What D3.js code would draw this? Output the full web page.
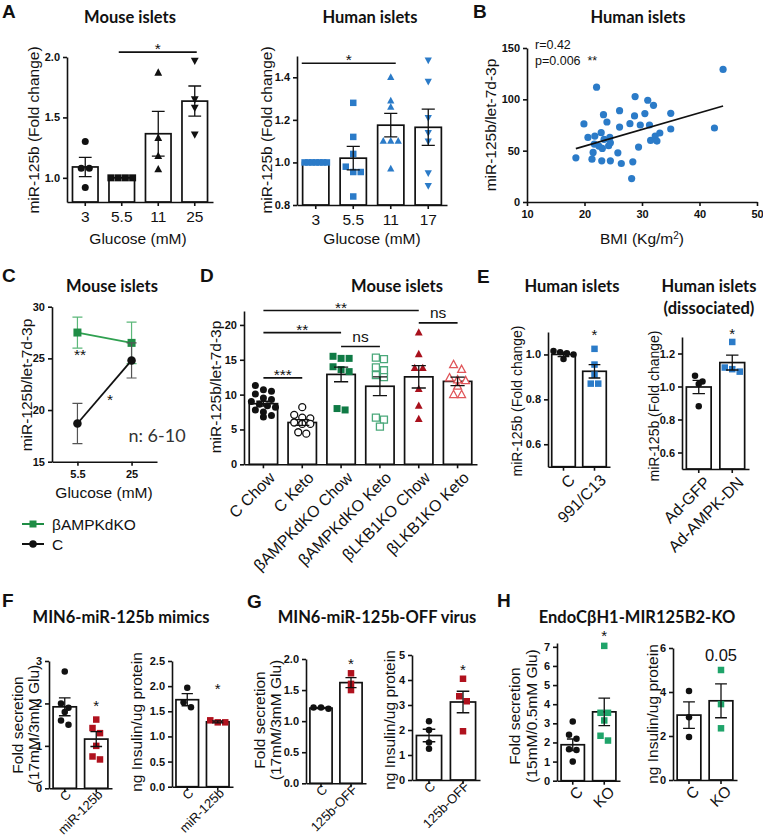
<!DOCTYPE html>
<html><head><meta charset="utf-8">
<script src="https://cdn.jsdelivr.net/npm/d3@7"></script>
<style>body{margin:0;background:#fff}svg{display:block}</style>
</head><body><svg id="c" width="763" height="840"></svg>
<script>
// ---------------- DATA ----------------
const aMouseGlucose = ["3","5.5","11","25"];
const aMouseMean = [1.09,1.0,1.365,1.635];
const aMouseSem = [0.08,0,0.185,0.125];
const aMousePts = [[1.30,1.08,1.08,0.92],[1,1,1,1],[1.87,1.33,1.18,1.07],[1.97,1.65,1.58,1.36]];

const aHumanGlucose = ["3","5.5","11","17"];
const aHumanMean = [1.0,1.02,1.175,1.165];
const aHumanSem = [0,0.055,0.055,0.085];
const aHumanPts = [[1,1,1,1,1,1,1],[1.28,1.12,1.04,0.98,0.955,0.955,0.84],[1.40,1.29,1.26,1.10,1.10,1.10,0.97],[1.48,1.38,1.21,1.14,1.10,0.95,0.89]];

const bBMI = [18.5,19.9,20.6,21.3,21.5,21.7,21.8,22.1,22.5,22.9,23.0,23.1,23.3,23.4,23.9,24.2,24.4,24.5,24.5,25.8,26.1,26.1,26.4,27.9,28.4,28.2,28.7,28.8,29.4,29.7,30.5,31.0,31.3,31.5,32.0,32.3,32.6,33.1,35.0,35.0,42.6,44.1];
const bRatio = [43.0,76.0,62.9,41.7,48.3,56.4,64.2,111.8,54.5,67.5,40.1,52.2,85.1,61.0,77.9,54.8,62.9,40.1,57.7,47.9,89.0,73.0,37.5,76.3,39.1,22.8,83.8,102.7,53.5,75.0,86.1,99.1,75.0,60.0,94.2,64.2,59.3,67.2,86.4,71.1,72.1,129.1];
const bFitBMI = [18.5,44.1];
const bFitRatio = [52,93.5];
const bStats = ["r=0.42","p=0.006\u00a0\u00a0**"];

const cGlucose = ["5.5","25"];
const cSeries = ["βAMPKdKO","C"];
const cKOMean = [27.5,26.5], cKOSem = [1.5,2.0];
const cCMean = [18.7,24.8], cCSem = [1.95,1.7];

const dGroups = ["C Chow","C Keto","βAMPKdKO Chow","βAMPKdKO Keto","βLKB1KO Chow","βLKB1KO Keto"];
const dMean = [8.7,6.0,12.9,11.2,12.55,11.9];
const dSem = [0.35,0.4,1.05,1.35,1.6,0.6];
const dPts = [[11.3,10.7,10.5,10.1,9.5,9.3,9.0,8.6,8.4,8.2,7.8,7.5,7.0,6.8],
  [8.2,7.1,6.7,6.6,6.0,5.8,5.8,4.6,4.4],
  [15.5,15.2,15.2,14.0,13.6,13.3,8.0,7.8],
  [15.3,15.1,13.9,13.5,12.8,12.5,6.7,6.4,5.4],
  [18.9,15.8,13.8,13.8,10.8,8.4,6.5],
  [14.3,13.6,12.4,12.1,12.0,11.2,10.0,10.0]];

const eDrugGroups = ["C","991/C13"];
const eDrugMean = [1.0,0.925], eDrugSem = [0.01,0.03];
const eDrugPts = [[1.015,1.01,1.005,1.0,0.98],[1.025,0.955,0.91,0.87,0.87]];
const eVirusGroups = ["Ad-GFP","Ad-AMPK-DN"];
const eVirusMean = [0.997,1.145], eVirusSem = [0.04,0.045];
const eVirusPts = [[1.065,1.03,1.015,0.88],[1.27,1.115,1.105,1.09]];

const fGroups = ["C","miR-125b"];
const fSecMean = [1.92,1.16], fSecSem = [0.21,0.175];
const fSecPts = [[2.75,2.0,1.9,1.8,1.6,1.5],[1.62,1.42,1.30,1.0,0.75,0.68]];
const fInsMean = [1.73,1.29], fInsSem = [0.12,0.02];
const fInsPts = [[1.97,1.68,1.58],[1.32,1.28,1.28]];

const gGroups = ["C","125b-OFF"];
const gSecMean = [1.21,1.62], gSecSem = [0.01,0.08];
const gSecPts = [[1.20,1.22,1.22],[1.77,1.60,1.50]];
const gInsMean = [1.78,3.12], gInsSem = [0.25,0.43];
const gInsPts = [[2.35,2.0,1.5,1.25],[4.05,3.35,3.15,1.95]];

const hGroups = ["C","KO"];
const hSecMean = [1.88,3.6], hSecSem = [0.3,0.72];
const hSecPts = [[3.1,2.4,2.2,1.65,1.6,1.0],[7.05,3.55,3.55,3.15,2.35,2.1]];
const hInsMean = [2.95,3.6], hInsSem = [0.6,0.77];
const hInsPts = [[4.05,2.85,1.95],[5.0,3.45,2.35]];

// ---------------- DRAWING ----------------
const FONT = "'Liberation Sans', Arial, sans-serif";
const TFONT = "Lato, 'Open Sans', sans-serif";
const INK = "#111";
const BLUE = "#2b7bc8";
const svg = d3.select("#c");

function marker(shape, s){
  const h = s/2;
  if(shape==="circle") return d3.symbol(d3.symbolCircle, Math.PI*h*h)();
  if(shape==="square") return `M${-h},${-h}H${h}V${h}H${-h}Z`;
  if(shape==="tri") return `M0,${-s*0.62}L${s*0.56},${s*0.42}L${-s*0.56},${s*0.42}Z`;
  return `M0,${s*0.62}L${s*0.56},${-s*0.42}L${-s*0.56},${-s*0.42}Z`;
}
function swarm(vals,y,cx,s,maxW){
  const it = vals.map(v=>({v,py:y(v)})).sort((a,b)=>a.py-b.py);
  const rows=[]; let cur=null;
  it.forEach(p=>{ if(cur && p.py-cur[0].py < s*0.9) cur.push(p); else {cur=[p]; rows.push(cur);} });
  rows.forEach(r=>{const k=r.length; const sp=k>1?Math.min(s*1.15,maxW/(k-1)):0; r.forEach((p,j)=>p.px=cx+(j-(k-1)/2)*sp);});
  return it;
}
function styleAxis(sel,bold,size){
  sel.attr("font-family",FONT).attr("font-size",size).attr("font-weight",bold?"bold":"normal");
  sel.selectAll("path,line").attr("stroke",INK).attr("stroke-width",1.6);
  sel.selectAll("text").attr("fill",INK);
}
function text(x,y,str,o={}){
  return svg.append("text").attr("x",x).attr("y",y).attr("text-anchor",o.anchor||"middle")
    .attr("font-family",o.font||FONT).attr("font-size",o.size||15).attr("font-weight",o.weight||"normal")
    .attr("fill",o.fill||INK).text(str);
}
function vtext(x,y,str,size=15){
  svg.append("text").attr("transform",`translate(${x},${y}) rotate(-90)`).attr("text-anchor","middle")
    .attr("font-family",FONT).attr("font-size",size).attr("fill",INK).text(str);
}
function title(x,y,str){ text(x,y,str,{font:TFONT,weight:"bold",size:16.5}); }
function letter(x,y,str){ text(x,y,str,{anchor:"start",weight:"bold",size:19}); }

function barPanel(o){
  const g = svg.append("g");
  const pad = o.pad ?? 0.3;
  const x = d3.scaleBand().domain(o.cats).range([o.x0,o.x1]).paddingInner(pad).paddingOuter(pad/2);
  const y = d3.scaleLinear().domain(o.dom).range([o.yb,o.yt]);
  const bw = x.bandwidth(), cx = i=>x(o.cats[i])+bw/2;
  g.selectAll("rect").data(o.mean).join("rect")
    .attr("x",(d,i)=>x(o.cats[i])).attr("y",d=>y(d)).attr("width",bw).attr("height",d=>o.yb-y(d))
    .attr("fill","#fff").attr("stroke",INK).attr("stroke-width",1.7);
  o.pts.forEach((vals,i)=>{
    const st = o.styles[i];
    g.append("g").selectAll("path").data(swarm(vals,y,cx(i),o.ms,bw*0.85)).join("path")
      .attr("d",marker(st.shape,o.ms)).attr("transform",d=>`translate(${d.px},${d.py})`)
      .attr("fill",st.open?"#fff":st.color).attr("stroke",st.open?st.color:"none").attr("stroke-width",1.3);
  });
  const cap = bw*0.25;
  o.mean.forEach((m,i)=>{ const s=o.sem[i]; if(!s) return; const X=cx(i), a=y(m-s), b=y(m+s);
    g.append("path").attr("d",`M${X},${a}V${b}M${X-cap},${a}H${X+cap}M${X-cap},${b}H${X+cap}`)
      .attr("stroke",INK).attr("stroke-width",1.3).attr("fill","none"); });
  const ya = g.append("g").attr("transform",`translate(${o.x0},0)`)
    .call(d3.axisLeft(y).tickValues(o.ticks).tickFormat(d3.format(o.fmt)).tickSize(4).tickSizeOuter(0).tickPadding(3));
  styleAxis(ya,true,11);
  const xa = g.append("g").attr("transform",`translate(0,${o.yb})`)
    .call(d3.axisBottom(x).tickSize(4).tickSizeOuter(0).tickPadding(5));
  styleAxis(xa,false,o.xfs||15.5);
  if(o.rot){
    xa.selectAll(".tick text").attr("text-anchor","end").attr("x",0).attr("y",0).attr("dy",o.rdy||"0.75em")
      .attr("transform",o.rot);
  }
  (o.sig||[]).forEach(s=>{
    const yy=y(s.v), x1=cx(s.a)+(s.d1||0), x2=cx(s.b)+(s.d2||0);
    g.append("line").attr("x1",x1).attr("x2",x2).attr("y1",yy).attr("y2",yy).attr("stroke",INK).attr("stroke-width",1.6);
    const isStar = s.t.includes("*");
    text((x1+x2)/2, isStar? yy+2 : yy-5, s.t, {size:15.5});
  });
  (o.stars||[]).forEach(s=>{ text(cx(s.i), y(s.v)+ (s.t==="*"?8:6), s.t, {size:s.size||15}); });
  return {x,y,cx};
}
const ROT1 = "translate(4,6) rotate(-45)";
const ROT2 = "translate(3,4) rotate(-45)";
const ROT3 = "translate(2,2) rotate(-45)";

// ---- Panel A ----
letter(2,18,"A");
title(130,23,"Mouse islets");
barPanel({x0:67,x1:213,yt:57,yb:202,dom:[0.8,2.0],cats:aMouseGlucose,mean:aMouseMean,sem:aMouseSem,pts:aMousePts,
  styles:[{shape:"circle",color:INK},{shape:"square",color:INK},{shape:"tri",color:INK},{shape:"trid",color:INK}],
  ms:7,ticks:[1.0,1.5,2.0],fmt:".1f",sig:[{a:1,b:3,v:2.04,t:"*",d1:-3,d2:2}]});
vtext(39,130,"miR-125b (Fold change)",15.5);
text(138,244,"Glucose (mM)",{size:15.5});

title(370,23,"Human islets");
barPanel({x0:297,x1:447,yt:56,yb:205,dom:[0.8,1.5],cats:aHumanGlucose,mean:aHumanMean,sem:aHumanSem,pts:aHumanPts,
  styles:[0,1,2,3].map(i=>({shape:["square","square","tri","trid"][i],color:BLUE})),
  ms:6.5,ticks:[0.8,1.0,1.2,1.4],fmt:".1f",sig:[{a:0,b:2,v:1.466,t:"*",d1:-14,d2:5}]});
vtext(272,130,"miR-125b (Fold change)",15.5);
text(372,244,"Glucose (mM)",{size:15.5});

// ---- Panel B ----
letter(473,18,"B");
title(638,23,"Human islets");
(function(){
  const x = d3.scaleLinear().domain([10,50]).range([527,757]);
  const y = d3.scaleLinear().domain([0,150]).range([202,48]);
  const g = svg.append("g");
  g.selectAll("circle").data(bBMI).join("circle").attr("cx",d=>x(d)).attr("cy",(d,i)=>y(bRatio[i])).attr("r",3.6).attr("fill",BLUE);
  g.append("line").attr("x1",x(bFitBMI[0])).attr("x2",x(bFitBMI[1])).attr("y1",y(bFitRatio[0])).attr("y2",y(bFitRatio[1]))
    .attr("stroke",INK).attr("stroke-width",1.6);
  const ya = g.append("g").attr("transform","translate(527,0)").call(d3.axisLeft(y).tickValues([0,50,100,150]).tickSize(4).tickSizeOuter(0).tickPadding(3));
  styleAxis(ya,true,11);
  const xa = g.append("g").attr("transform","translate(0,202)").call(d3.axisBottom(x).tickValues([10,20,30,40,50]).tickSize(4).tickSizeOuter(0).tickPadding(4));
  styleAxis(xa,true,11);
  text(535,49,bStats[0],{anchor:"start",size:12.5});
  text(535,65,bStats[1],{anchor:"start",size:12.5});
  vtext(496,125,"miR-125b/let-7d-3p",15.5);
  const t = text(642,244,"BMI (Kg/m",{size:15.5});
  t.append("tspan").attr("baseline-shift","super").attr("font-size",10).text("2");
  t.append("tspan").text(")");
})();

// ---- Panel C ----
letter(2,282,"C");
title(112,292,"Mouse islets");
(function(){
  const x = d3.scalePoint().domain(cGlucose).range([52,157]).padding(0.47);
  const y = d3.scaleLinear().domain([15,30]).range([461.7,306.7]);
  const g = svg.append("g");
  const ya = g.append("g").attr("transform","translate(52,0)").call(d3.axisLeft(y).tickValues([15,20,25,30]).tickSize(4).tickSizeOuter(0).tickPadding(3));
  styleAxis(ya,true,11);
  const xa = g.append("g").attr("transform","translate(0,461.7)").call(d3.axisBottom(x).tickSize(4).tickSizeOuter(0).tickPadding(5));
  styleAxis(xa,true,11);
  const series = [{m:cKOMean,s:cKOSem,line:"#2fa050",err:"#5cb87a",mk:"square",col:"#1f8d45",ms:8},
                  {m:cCMean,s:cCSem,line:INK,err:"#555",mk:"circle",col:INK,ms:8.5}];
  series.forEach(se=>{
    const pts = cGlucose.map((k,i)=>[x(k),y(se.m[i])]);
    cGlucose.forEach((k,i)=>{ const X=x(k), a=y(se.m[i]-se.s[i]), b=y(se.m[i]+se.s[i]);
      g.append("path").attr("d",`M${X},${a}V${b}M${X-5},${a}H${X+5}M${X-5},${b}H${X+5}`).attr("stroke",se.err).attr("stroke-width",1.2).attr("fill","none"); });
    g.append("path").attr("d",d3.line()(pts)).attr("stroke",se.line).attr("stroke-width",1.8).attr("fill","none");
    g.selectAll(null).data(pts).join("path").attr("d",marker(se.mk,se.ms)).attr("transform",d=>`translate(${d[0]},${d[1]})`).attr("fill",se.col);
  });
  text(80,360,"**",{size:15.5});
  text(110,405,"*",{size:15.5});
  text(157,442,"n: 6-10",{font:TFONT,size:18,fill:"#333"});
  vtext(32,385,"miR-125b/let-7d-3p",15.5);
  text(104,498,"Glucose (mM)",{size:15.5});
  // legend
  [[524,series[0],cSeries[0]],[544,series[1],cSeries[1]]].forEach(([ly,se,lab])=>{
    svg.append("line").attr("x1",22).attr("x2",44).attr("y1",ly).attr("y2",ly).attr("stroke",se.col===INK?INK:"#1f8d45").attr("stroke-width",2);
    svg.append("path").attr("d",marker(se.mk,se.mk==="circle"?7.5:7)).attr("transform",`translate(33,${ly})`).attr("fill",se.col);
    text(52,ly+5.5,lab,{anchor:"start",size:15.5});
  });
})();

// ---- Panel D ----
letter(200,282,"D");
title(397,292,"Mouse islets");
barPanel({x0:244,x1:477,yt:311,yb:464.3,dom:[0,22],cats:dGroups,mean:dMean,sem:dSem,pts:dPts,pad:0.27,
  styles:[{shape:"circle",color:INK},{shape:"circle",color:INK,open:true},{shape:"square",color:"#0f7a45"},
          {shape:"square",color:"#4aa87a",open:true},{shape:"tri",color:"#a8101c"},{shape:"tri",color:"#e0565a",open:true}],
  ms:7,ticks:[0,5,10,15,20],fmt:"d",rot:ROT1,xfs:16,
  sig:[{a:0,b:1,v:12.4,t:"***"},{a:0,b:2,v:18.9,t:"**"},{a:2,b:3,v:16.9,t:"ns"},{a:0,b:4,v:22.07,t:"**"},{a:4,b:5,v:20.3,t:"ns"}]});
vtext(221,387,"miR-125b/let-7d-3p",15.5);

// ---- Panel E ----
letter(477,283,"E");
title(572,292,"Human islets");
barPanel({x0:548,x1:610,yt:332,yb:466.7,dom:[0.5,1.1],cats:eDrugGroups,mean:eDrugMean,sem:eDrugSem,pts:eDrugPts,pad:0.24,
  styles:[{shape:"circle",color:INK},{shape:"square",color:BLUE}],ms:6.5,ticks:[0.6,0.8,1.0],fmt:".1f",rot:ROT1,xfs:16,
  stars:[{i:1,v:1.099,t:"*"}]});
vtext(522,401,"miR-125b (Fold change)",14);
title(709,292,"Human islets");
title(709,314,"(dissociated)");
barPanel({x0:682,x1:749,yt:337,yb:469,dom:[0.5,1.3],cats:eVirusGroups,mean:eVirusMean,sem:eVirusSem,pts:eVirusPts,pad:0.26,
  styles:[{shape:"circle",color:INK},{shape:"square",color:BLUE}],ms:6.5,ticks:[0.6,0.8,1.0,1.2],fmt:".1f",rot:ROT1,xfs:16,
  stars:[{i:1,v:1.336,t:"*"}]});
vtext(659,406,"miR-125b (Fold change)",14);

// ---- Panel F ----
const RED = "#b0121e";
letter(2,607,"F");
title(121,623,"MIN6-miR-125b mimics");
barPanel({x0:49,x1:112,yt:661,yb:788.3,dom:[0,3],cats:fGroups,mean:fSecMean,sem:fSecSem,pts:fSecPts,pad:0.26,
  styles:[{shape:"circle",color:INK},{shape:"square",color:RED}],ms:6.5,ticks:[0,1,2,3],fmt:"d",rot:ROT3,rdy:"0.55em",xfs:13,
  stars:[{i:1,v:2.01,t:"*"}]});
vtext(23,725,"Fold secretion",15.5);
vtext(39,725,"(17mM/3mM Glu)",15.5);
barPanel({x0:172,x1:233,yt:661,yb:786.7,dom:[0,2.5],cats:fGroups,mean:fInsMean,sem:fInsSem,pts:fInsPts,pad:0.26,
  styles:[{shape:"circle",color:INK},{shape:"square",color:RED}],ms:6.5,ticks:[0,0.5,1.0,1.5,2.0,2.5],fmt:".1f",rot:ROT3,rdy:"0.55em",xfs:13,
  stars:[{i:1,v:2.01,t:"*"}]});
vtext(142,722,"ng Insulin/ug protein",15.5);

// ---- Panel G ----
letter(247,608,"G");
title(377,623,"MIN6-miR-125b-OFF virus");
barPanel({x0:306,x1:366,yt:659,yb:783.3,dom:[0,2],cats:gGroups,mean:gSecMean,sem:gSecSem,pts:gSecPts,pad:0.26,
  styles:[{shape:"circle",color:INK},{shape:"square",color:RED}],ms:6.5,ticks:[0,0.5,1.0,1.5,2.0],fmt:".1f",rot:ROT3,rdy:"0.55em",xfs:13,
  stars:[{i:1,v:1.96,t:"*"}]});
vtext(265,720,"Fold secretion",15.5);
vtext(281,720,"(17mM/3mM Glu)",15.5);
barPanel({x0:412,x1:480,yt:655,yb:780,dom:[0,5],cats:gGroups,mean:gInsMean,sem:gInsSem,pts:gInsPts,pad:0.26,
  styles:[{shape:"circle",color:INK},{shape:"square",color:RED}],ms:6.5,ticks:[0,1,2,3,4,5],fmt:"d",rot:ROT3,rdy:"0.55em",xfs:13,
  stars:[{i:1,v:4.52,t:"*"}]});
vtext(395,720,"ng Insulin/ug protein",15.5);

// ---- Panel H ----
const GREEN = "#1fa46a";
letter(497,607,"H");
title(637,623,"EndoCβH1-MIR125B2-KO");
barPanel({x0:557,x1:620,yt:643,yb:780.7,dom:[0,7.2],cats:hGroups,mean:hSecMean,sem:hSecSem,pts:hSecPts,pad:0.26,
  styles:[{shape:"circle",color:INK},{shape:"square",color:GREEN}],ms:6.5,ticks:[0,1,2,3,4,5,6,7],fmt:"d",rot:ROT2,xfs:15.5,
  stars:[{i:1,v:7.73,t:"*"}]});
vtext(520,716,"Fold secretion",15.5);
vtext(537,716,"(15mM/0.5mM Glu)",15.5);
barPanel({x0:673,x1:737,yt:648,yb:780,dom:[0,6],cats:hGroups,mean:hInsMean,sem:hInsSem,pts:hInsPts,pad:0.26,
  styles:[{shape:"circle",color:INK},{shape:"square",color:GREEN}],ms:6.5,ticks:[0,2,4,6],fmt:"d",rot:ROT2,xfs:15.5,
  stars:[{i:1,v:5.68,t:"0.05",size:16.5}]});
vtext(658,714,"ng Insulin/ug protein",15.5);
</script></body></html>
